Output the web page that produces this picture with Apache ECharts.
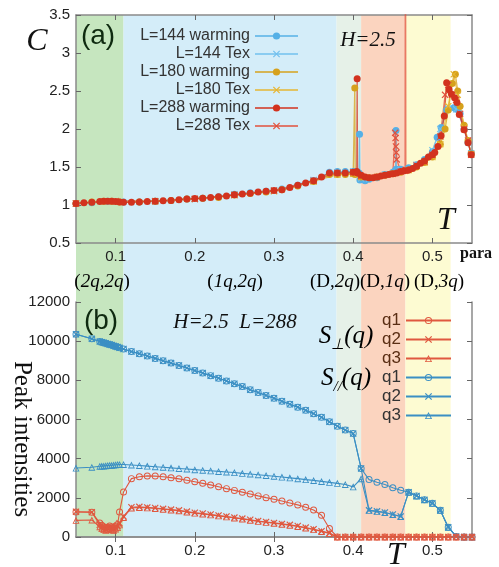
<!DOCTYPE html>
<html>
<head>
<meta charset="utf-8">
<script src="https://cdn.jsdelivr.net/npm/echarts@6.0.0/dist/echarts.min.js"></script>
<style>
  html, body { margin: 0; padding: 0; background: #fff; }
  #chart { width: 499px; height: 567px; }
</style>
</head>
<body>
<div id="chart"></div>
<script>
// ---- panel (a): specific heat C(T), pairs [T, C] ----
const warm144 = [[0.05,1.02],[0.07,1.03],[0.09,1.05],[0.11,1.04],[0.13,1.04],[0.15,1.05],[0.17,1.06],[0.19,1.08],[0.21,1.09],[0.23,1.11],[0.25,1.14],[0.27,1.16],[0.29,1.18],[0.31,1.21],[0.33,1.26],[0.35,1.32],[0.37,1.43],[0.38,1.44],[0.39,1.44],[0.4,1.44],[0.4075,1.42],[0.408,1.93],[0.4085,1.33],[0.415,1.32],[0.42,1.34],[0.43,1.36],[0.44,1.4],[0.45,1.43],[0.4535,1.46],[0.454,1.98],[0.4545,1.47],[0.46,1.47],[0.47,1.49],[0.48,1.53],[0.49,1.6],[0.5,1.7],[0.506,1.89],[0.511,2.02],[0.518,2.25],[0.527,2.28],[0.53,2.26],[0.535,2.2],[0.54,2.0],[0.545,1.82],[0.549,1.68]];
const tex144 = [[0.05,1.02],[0.1,1.05],[0.15,1.05],[0.2,1.08],[0.25,1.14],[0.3,1.19],[0.35,1.33],[0.38,1.43],[0.4,1.44],[0.41,1.35],[0.42,1.35],[0.44,1.4],[0.46,1.46],[0.48,1.53],[0.5,1.72],[0.51,2.0],[0.52,2.27],[0.53,2.26],[0.54,2.02],[0.549,1.68]];
const warm180 = [[0.05,1.02],[0.07,1.04],[0.085,1.05],[0.095,1.05],[0.105,1.04],[0.13,1.04],[0.15,1.05],[0.17,1.06],[0.19,1.08],[0.21,1.09],[0.23,1.1],[0.25,1.13],[0.27,1.15],[0.29,1.17],[0.31,1.2],[0.33,1.25],[0.35,1.31],[0.37,1.4],[0.38,1.4],[0.39,1.4],[0.4,1.41],[0.4015,1.42],[0.402,2.54],[0.4025,1.4],[0.41,1.37],[0.42,1.36],[0.43,1.37],[0.44,1.39],[0.45,1.41],[0.46,1.43],[0.47,1.46],[0.48,1.5],[0.49,1.56],[0.5,1.63],[0.51,1.8],[0.516,2.0],[0.52,2.25],[0.525,2.6],[0.529,2.72],[0.532,2.5],[0.535,2.3],[0.54,2.05],[0.545,1.85],[0.549,1.67]];
const tex180 = [[0.05,1.02],[0.1,1.05],[0.15,1.05],[0.2,1.08],[0.25,1.13],[0.3,1.18],[0.35,1.31],[0.38,1.4],[0.4,1.41],[0.41,1.37],[0.43,1.37],[0.45,1.41],[0.47,1.46],[0.49,1.56],[0.5,1.63],[0.51,1.8],[0.52,2.3],[0.527,2.72],[0.532,2.45],[0.54,2.02],[0.549,1.67]];
const warm288 = [[0.05,1.02],[0.06,1.03],[0.07,1.035],[0.08,1.045],[0.085,1.05],[0.09,1.05],[0.095,1.05],[0.1,1.045],[0.105,1.04],[0.11,1.035],[0.12,1.035],[0.13,1.04],[0.14,1.045],[0.15,1.05],[0.16,1.055],[0.17,1.06],[0.18,1.07],[0.19,1.08],[0.2,1.085],[0.21,1.09],[0.22,1.1],[0.23,1.11],[0.24,1.12],[0.25,1.135],[0.26,1.145],[0.27,1.155],[0.28,1.17],[0.29,1.18],[0.3,1.19],[0.31,1.2],[0.32,1.23],[0.33,1.26],[0.34,1.29],[0.35,1.32],[0.36,1.37],[0.37,1.42],[0.38,1.42],[0.39,1.42],[0.4,1.43],[0.4045,1.44],[0.405,2.66],[0.4055,1.42],[0.41,1.39],[0.415,1.37],[0.42,1.36],[0.425,1.36],[0.43,1.37],[0.435,1.38],[0.44,1.39],[0.445,1.4],[0.45,1.41],[0.455,1.42],[0.46,1.44],[0.465,1.45],[0.47,1.46],[0.475,1.48],[0.48,1.51],[0.485,1.55],[0.49,1.58],[0.495,1.63],[0.5,1.66],[0.503,1.69],[0.507,1.77],[0.511,1.91],[0.515,2.17],[0.518,2.61],[0.521,2.52],[0.524,2.46],[0.528,2.41],[0.531,2.35],[0.534,2.19],[0.54,1.99],[0.545,1.82],[0.549,1.66]];
const tex288 = [[0.05,1.02],[0.1,1.05],[0.15,1.05],[0.2,1.08],[0.25,1.13],[0.3,1.19],[0.35,1.32],[0.38,1.42],[0.4,1.43],[0.41,1.38],[0.43,1.37],[0.45,1.41],[0.453,1.95],[0.4535,1.88],[0.454,1.77],[0.4545,1.69],[0.455,1.6],[0.46,1.44],[0.4655,1.45],[0.466,6],[0.4665,1.46],[0.48,1.52],[0.49,1.57],[0.5,1.66],[0.51,1.9],[0.516,2.45],[0.52,2.58],[0.525,2.45],[0.53,2.38],[0.535,2.2],[0.54,2.0],[0.545,1.85],[0.549,1.66]];

// ---- panel (b): peak intensities, L=288 ----
const tB = [0.05,0.07,0.08,0.0825,0.085,0.0875,0.09,0.0925,0.095,0.0975,0.1,0.1025,0.105,
  0.11,0.12,0.13,0.14,0.15,0.16,0.17,0.18,0.19,0.2,0.21,0.22,0.23,0.24,0.25,0.26,0.27,0.28,0.29,0.3,
  0.31,0.32,0.33,0.34,0.35,0.36,0.37,0.38,0.39,0.4,0.41,0.42,0.43,0.44,0.45,0.46,0.47,0.48,0.49,0.5,
  0.51,0.52,0.53,0.54,0.55];
const perpQ1 = [1280,1260,720,600,520,470,500,560,510,470,560,640,1280,
  2300,2980,3080,3120,3110,3080,3030,2970,2900,2820,2740,2660,2570,2470,2380,2290,2200,2100,2010,1930,
  1840,1740,1640,1520,1380,1110,430,0,0,0,0,0,0,0,0,0,0,0,0,0,
  0,0,0,0,0];
const perpQ2 = [1290,1270,620,520,450,420,460,500,440,420,480,560,700,
  1050,1520,1540,1510,1480,1440,1400,1360,1300,1240,1200,1150,1100,1050,990,940,880,820,770,720,
  670,620,560,480,400,300,200,0,0,0,0,0,0,0,0,0,0,0,0,0,
  0,0,0,0,0];
const perpQ3 = [850,870,520,430,380,350,390,420,370,350,410,480,620,
  1000,1480,1510,1490,1460,1420,1380,1340,1280,1220,1180,1130,1080,1030,970,920,860,800,750,700,
  650,600,540,460,380,280,180,0,0,0,0,0,0,0,0,0,0,0,0,0,
  0,0,0,0,0];
const parQ1 = [10350,10120,9980,9950,9920,9890,9860,9830,9800,9760,9730,9700,9660,
  9600,9470,9360,9240,9120,9000,8880,8760,8630,8500,8370,8240,8110,7970,7830,7680,7520,7380,7230,7080,
  6930,6780,6630,6470,6300,6110,5880,5660,5460,5280,3500,2930,2800,2680,2520,2390,2290,2100,1900,1720,
  1360,500,30,0,0];
const parQ2 = [10350,10120,9980,9950,9920,9890,9860,9830,9800,9760,9730,9700,9660,
  9600,9470,9360,9240,9120,9000,8880,8760,8630,8500,8370,8240,8110,7970,7830,7680,7520,7380,7230,7080,
  6930,6780,6630,6470,6300,6110,5880,5660,5460,5280,3500,1360,1310,1250,1150,1050,2290,2100,1900,1720,
  1360,500,30,0,0];
const parQ3 = [3520,3560,3610,3620,3630,3640,3650,3660,3670,3680,3690,3700,3700,
  3700,3680,3650,3620,3590,3560,3530,3500,3470,3440,3410,3380,3350,3320,3290,3250,3220,3180,3140,3100,
  3060,3020,2980,2930,2890,2840,2790,2740,2680,2560,2980,1360,1310,1250,1150,1050,2290,2100,1900,1720,
  1360,500,30,0,0];

// ---- phase regions and ticks ----
const bandEdges = [0.05, 0.11, 0.379, 0.41, 0.466, 0.523];
const bandColors = ['#c6e6bf', '#d4edf9', '#e6f1e8', '#fbd4bf', '#fdfbd2'];
const tTicks = [0.1, 0.2, 0.3, 0.4, 0.5];

const chart = echarts.init(document.getElementById('chart'));

const symX = 'path://M0,1.2L1.2,0L5,3.8L8.8,0L10,1.2L6.2,5L10,8.8L8.8,10L5,6.2L1.2,10L0,8.8L3.8,5Z';
const symRing = 'path://M5,0A5,5,0,1,1,5,10A5,5,0,1,1,5,0ZM5,1.4A3.6,3.6,0,1,0,5,8.6A3.6,3.6,0,1,0,5,1.4Z';
const symTri = 'path://M5,0L10,9L0,9ZM5,2.6L1.9,7.8L8.1,7.8Z';

const axisCol = '#8a8a8a';
const labelFont = { color: '#222', fontSize: 15, fontFamily: 'Liberation Sans, Arial, sans-serif' };

function tAxis(grid, pos, labels) {
  return {
    type: 'value', gridIndex: grid, position: pos, min: 0.05, max: 0.55,
    axisLine: { show: true, lineStyle: { color: axisCol, width: 1.5 } },
    axisTick: { show: true, inside: true, length: 5, customValues: tTicks, lineStyle: { color: '#666' } },
    axisLabel: Object.assign({ show: labels, margin: 6, customValues: tTicks }, labelFont),
    splitLine: { show: false }
  };
}
function vAxis(grid, pos, min, max, step, labels) {
  return {
    type: 'value', gridIndex: grid, position: pos, min: min, max: max, interval: step,
    axisLine: { show: true, lineStyle: { color: axisCol, width: 1.5 } },
    axisTick: { show: true, inside: true, length: 5, lineStyle: { color: '#666' } },
    axisLabel: Object.assign({ show: labels, margin: 6, formatter: v => String(v) }, labelFont),
    splitLine: { show: false }
  };
}

function cSeries(name, data, color, symbol) {
  return {
    name: name, type: 'line', xAxisIndex: 0, yAxisIndex: 0, data: data,
    symbol: symbol, symbolSize: 7, showAllSymbol: true,
    itemStyle: { color: color },
    lineStyle: { color: color, width: 1.3, opacity: 0.75 },
    animation: false
  };
}
function pSeries(name, vals, color, symbol) {
  return {
    name: name, type: 'line', xAxisIndex: 2, yAxisIndex: 2,
    data: tB.map((t, i) => [t, vals[i]]),
    symbol: symbol, symbolSize: 7, showAllSymbol: true,
    itemStyle: { color: color },
    lineStyle: { color: color, width: 1.1 },
    animation: false
  };
}

const red = '#d2321e', red2 = '#e2503c', blue = '#55b0e6', blue2 = '#72c0ee', gold = '#d6a11c', gold2 = '#e6b532';
const perpCol = '#e0583f', parCol = '#3b8fc4';

chart.setOption({
  animation: false,
  grid: [
    { left: 76, right: 27, top: 15, height: 228 },
    { left: 76, right: 27, top: 302, height: 235 }
  ],
  xAxis: [tAxis(0, 'bottom', true), tAxis(0, 'top', false), tAxis(1, 'bottom', true), tAxis(1, 'top', false)],
  yAxis: [vAxis(0, 'left', 0.5, 3.5, 0.5, true), vAxis(0, 'right', 0.5, 3.5, 0.5, false),
          vAxis(1, 'left', 0, 12000, 2000, true), vAxis(1, 'right', 0, 12000, 2000, false)],
  legend: [
    {
      orient: 'vertical', align: 'right', right: 195, top: 23,
      itemWidth: 43, itemHeight: 9, itemGap: 2,
      textStyle: { color: '#333', fontSize: 16, lineHeight: 15, fontFamily: 'Liberation Sans, Arial, sans-serif' },
      data: ['L=144 warming', 'L=144 Tex', 'L=180 warming', 'L=180 Tex', 'L=288 warming', 'L=288 Tex']
    },
    {
      orient: 'vertical', align: 'right', right: 42, top: 307,
      itemWidth: 45, itemHeight: 9, itemGap: 2,
      formatter: n => n.split(' ').pop(),
      textStyle: { color: '#333', fontSize: 17, lineHeight: 16, fontFamily: 'Liberation Sans, Arial, sans-serif' },
      data: [
        { name: 'perp q1', textStyle: { color: '#5a2e14' } },
        { name: 'perp q2', textStyle: { color: '#5a2e14' } },
        { name: 'perp q3', textStyle: { color: '#5a2e14' } },
        { name: 'par q1' }, { name: 'par q2' }, { name: 'par q3' }
      ]
    }
  ],
  series: [
    cSeries('L=144 warming', warm144, blue, 'circle'),
    cSeries('L=144 Tex', tex144, blue2, symX),
    cSeries('L=180 warming', warm180, gold, 'circle'),
    cSeries('L=180 Tex', tex180, gold2, symX),
    cSeries('L=288 Tex', tex288, red2, symX),
    cSeries('L=288 warming', warm288, red, 'circle'),
    pSeries('par q3', parQ3, parCol, symTri),
    pSeries('par q2', parQ2, parCol, symX),
    pSeries('par q1', parQ1, parCol, symRing),
    pSeries('perp q3', perpQ3, perpCol, symTri),
    pSeries('perp q2', perpQ2, perpCol, symX),
    pSeries('perp q1', perpQ1, perpCol, symRing)
  ]
});

// background phase bands through both panels, placed with the T axis scale
const yTop = chart.convertToPixel({ yAxisIndex: 0 }, 3.5);
const yBot = chart.convertToPixel({ yAxisIndex: 2 }, 0);
const graphics = [];
for (let i = 0; i < bandColors.length; i++) {
  const x0 = chart.convertToPixel({ xAxisIndex: 0 }, bandEdges[i]);
  const x1 = chart.convertToPixel({ xAxisIndex: 0 }, bandEdges[i + 1]);
  graphics.push({ type: 'rect', z: -5, silent: true,
    shape: { x: x0, y: yTop, width: x1 - x0, height: yBot - yTop },
    style: { fill: bandColors[i] } });
}

const serif = '"Liberation Serif", "DejaVu Serif", serif';
function txt(text, x, y, font, fill, extra) {
  return Object.assign({ type: 'text', z: 20, silent: true, x: x, y: y,
    style: { text: text, font: font, fill: fill || '#111', align: 'center', verticalAlign: 'middle' } }, extra || {});
}
graphics.push(
  txt('(a)', 98, 36, '28px "Liberation Sans", Arial, sans-serif', '#0f2a10'),
  txt('(b)', 101, 321, '28px "Liberation Sans", Arial, sans-serif', '#0f2a10'),
  txt('C', 37, 42, 'italic 32px ' + serif, '#111'),
  txt('T', 446, 221, 'italic 32px ' + serif, '#111'),
  txt('T', 396, 556, 'italic 32px ' + serif, '#111'),
  txt('H=2.5', 368, 40, 'italic 21px ' + serif, '#111'),
  txt('H=2.5  L=288', 235, 322, 'italic 21px ' + serif, '#111'),
  txt('para', 476, 254, 'bold 16px ' + serif, '#111'),
  txt('Peak intensities', 22, 439, '25px ' + serif, '#111', { rotation: -Math.PI / 2 })
);

// S-perp / S-parallel labels and phase names as rich text
const richBase = {
  s: { fontFamily: 'Liberation Serif', fontStyle: 'italic', fontSize: 25, color: '#111', verticalAlign: 'bottom', padding: [0, 0, 4, 0] },
  sub: { fontFamily: 'Liberation Serif', fontStyle: 'italic', fontSize: 15, color: '#111', verticalAlign: 'bottom' }
};
graphics.push(
  { type: 'text', z: 20, silent: true, x: 346, y: 338,
    style: { text: '{s|S}{sub|⊥}{s|(q)}', rich: richBase, align: 'center', verticalAlign: 'middle' } },
  { type: 'text', z: 20, silent: true, x: 346, y: 380,
    style: { text: '{s|S}{sub|//}{s|(q)}', rich: richBase, align: 'center', verticalAlign: 'middle' } }
);
const phaseRich = {
  n: { fontFamily: 'Liberation Serif', fontSize: 19, color: '#1c1c1c' },
  i: { fontFamily: 'Liberation Serif', fontStyle: 'italic', fontSize: 19, color: '#1c1c1c' },
  g: { fontFamily: 'Liberation Serif', fontStyle: 'italic', fontSize: 19, color: '#2e4a2c' },
  b: { fontFamily: 'Liberation Serif', fontSize: 19, color: '#6a2a12' },
  bi: { fontFamily: 'Liberation Serif', fontStyle: 'italic', fontSize: 19, color: '#6a2a12' }
};
function phase(text, x) {
  return { type: 'text', z: 20, silent: true, x: x, y: 282,
    style: { text: text, rich: phaseRich, align: 'center', verticalAlign: 'middle' } };
}
graphics.push(
  phase('{n|(}{g|2q,2q}{n|)}', 102),
  phase('{n|(}{i|1q,2q}{n|)}', 235),
  phase('{n|(D,}{g|2q}{n|)}', 335),
  phase('{b|(D,}{bi|1q}{b|)}', 385),
  phase('{n|(D,}{i|3q}{n|)}', 439)
);

chart.setOption({ graphic: graphics });
</script>
</body>
</html>
